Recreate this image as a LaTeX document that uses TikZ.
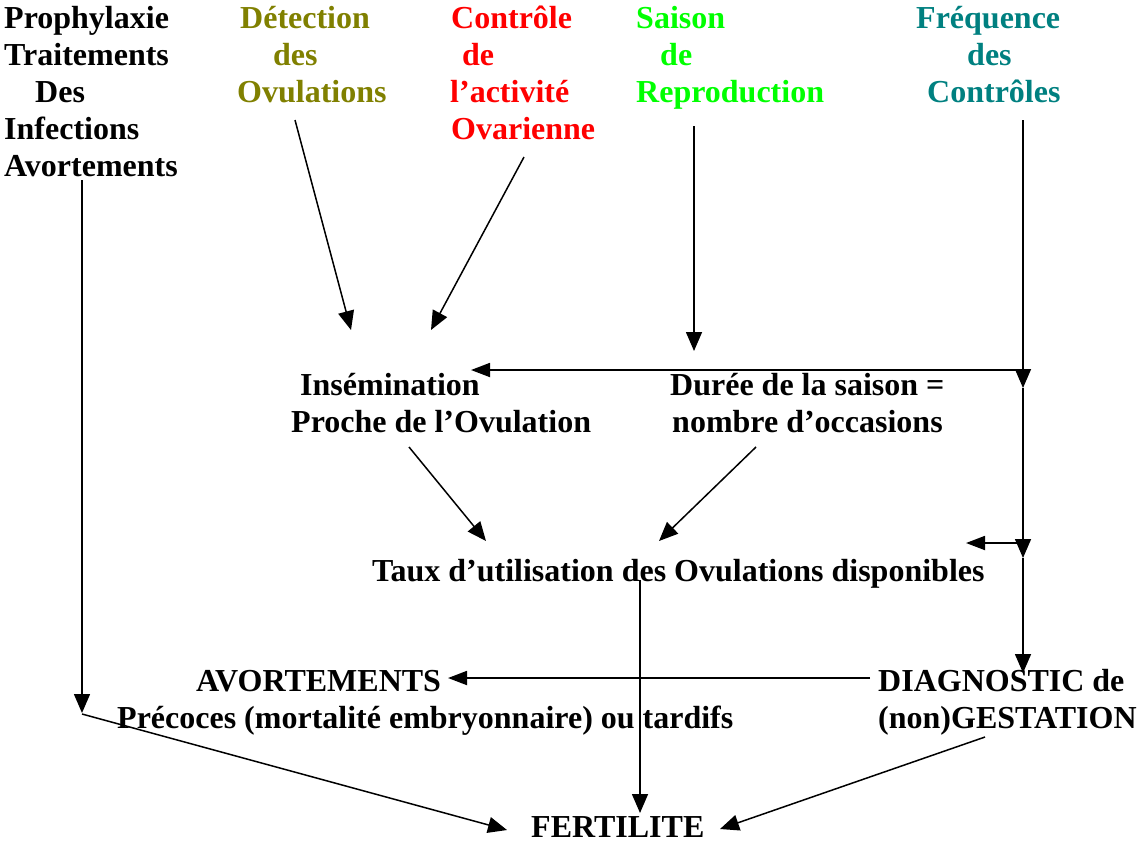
\documentclass[tikz,border=0pt]{standalone}
\usepackage{fontspec}
\setmainfont{Liberation Serif}
\usetikzlibrary{arrows.meta}
\definecolor{olivec}{HTML}{808000}
\definecolor{redc}{HTML}{FF0000}
\definecolor{greenc}{HTML}{00FF00}
\definecolor{tealc}{HTML}{008080}
\begin{document}
\begin{tikzpicture}[x=1pt,y=-1pt,
  txt/.style={anchor=base west,inner sep=0pt,font=\fontsize{32}{37}\selectfont\bfseries},
  arr/.style={line width=1.5pt,-{Triangle[length=19pt,width=16pt]}},
  harr/.style={line width=1.8pt,-{Triangle[length=19pt,width=14pt]}},
  ln/.style={line width=1.5pt}]
\useasboundingbox (0,0) rectangle (1139,847);
% left block
\node[txt] (p1) at (4,28) {Prophylaxie};
\node[txt] (p2) at (4,65) {Traitements};
\node[txt] (p3) at (35,102) {Des};
\node[txt] (p4) at (4,139) {Infections};
\node[txt] (p5) at (4,176) {Avortements};
% detection
\node[txt,text=olivec] (d1) at (240,28) {Détection};
\node[txt,text=olivec] (d2) at (273,65) {des};
\node[txt,text=olivec] (d3) at (237,102) {Ovulations};
% controle
\node[txt,text=redc] (c1) at (451,28) {Contrôle};
\node[txt,text=redc] (c2) at (462,65) {de};
\node[txt,text=redc] (c3) at (450,102) {l’activité};
\node[txt,text=redc] (c4) at (451,139) {Ovarienne};
% saison
\node[txt,text=greenc] (s1) at (636,28) {Saison};
\node[txt,text=greenc] (s2) at (660,65) {de};
\node[txt,text=greenc] (s3) at (636,102) {Reproduction};
% frequence
\node[txt,text=tealc] (f1) at (916,28) {Fréquence};
\node[txt,text=tealc] (f2) at (967,65) {des};
\node[txt,text=tealc] (f3) at (927,102) {Contrôles};
% middle
\node[txt] (i1) at (300,395) {Insémination};
\node[txt] (i2) at (291,432) {Proche de l’Ovulation};
\node[txt] (u1) at (670,395) {Durée de la saison =};
\node[txt] (u2) at (672,432) {nombre d’occasions};
\node[txt] (t1) at (372,581) {Taux d’utilisation des Ovulations disponibles};
\node[txt] (a1) at (196,691) {AVORTEMENTS};
\node[txt] (a2) at (117,728) {Précoces (mortalité embryonnaire) ou tardifs};
\node[txt] (g1) at (878,691) {DIAGNOSTIC de};
\node[txt] (g2) at (878,728) {(non)GESTATION};
\node[txt] (fe) at (531,837) {FERTILITE};
% coordinates
\coordinate (dA) at (295,120);
\coordinate (dB) at (351,330);
\coordinate (cA) at (524,157);
\coordinate (cB) at (431,330);
\coordinate (sA) at (694,126);
\coordinate (sB) at (694,351);
\coordinate (fA) at (1023,120);
\coordinate (j1) at (1023,370);
\coordinate (iR) at (471,370);
\coordinate (j1b) at (1023,388);
\coordinate (j2) at (1023,543);
\coordinate (tR) at (966,543);
\coordinate (j2b) at (1023,558);
\coordinate (gT) at (1023,673);
\coordinate (iA) at (409,447);
\coordinate (iB) at (486,541);
\coordinate (uA) at (756,447);
\coordinate (uB) at (659,541);
\coordinate (tA) at (640,580);
\coordinate (tB) at (640,813);
\coordinate (gL) at (870,678);
\coordinate (aR) at (448,678);
\coordinate (vA) at (82,180);
\coordinate (vB) at (82,713);
\coordinate (vC) at (82,714);
\coordinate (fL) at (507,830);
\coordinate (gA) at (985,737);
\coordinate (fR) at (720,829);
% connectors
\draw[arr] (dA) -- (dB);
\draw[arr] (cA) -- (cB);
\draw[arr] (sA) -- (sB);
\draw[ln] (fA) -- (j1);
\draw[harr] (j1) -- (iR);
\draw[arr] (j1) -- (j1b);
\draw[ln] (j1b) -- (j2);
\draw[harr] (j2) -- (tR);
\draw[arr] (j2) -- (j2b);
\draw[arr] (j2b) -- (gT);
\draw[arr] (iA) -- (iB);
\draw[arr] (uA) -- (uB);
\draw[arr] (tA) -- (tB);
\draw[harr] (gL) -- (aR);
\draw[arr] (vA) -- (vB);
\draw[arr] (vC) -- (fL);
\draw[arr] (gA) -- (fR);
\end{tikzpicture}
\end{document}
